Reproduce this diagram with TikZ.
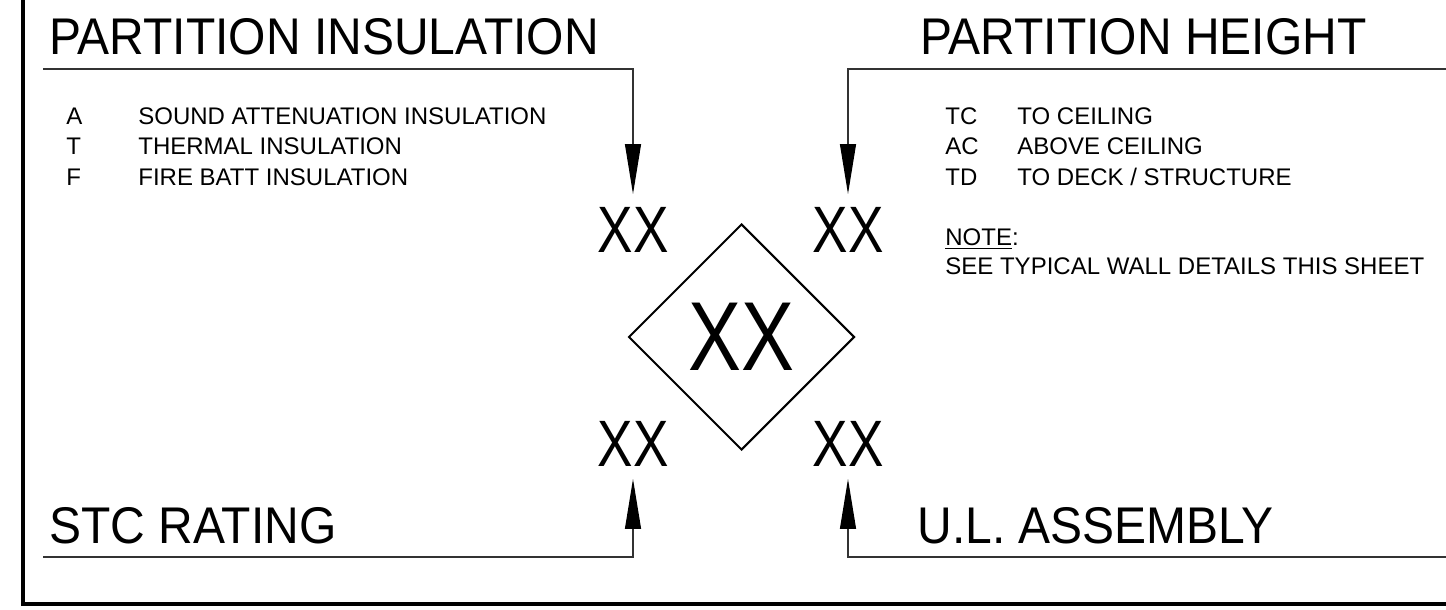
\documentclass[tikz,border=0pt]{standalone}
\usepackage{fontspec}
\setmainfont{Liberation Sans}
\newfontfamily\titlefont{Liberation Sans}[FakeStretch=0.93]
\newfontfamily\xxfont{Liberation Sans}[FakeStretch=0.81]
\usetikzlibrary{shapes.geometric,arrows.meta}
\begin{document}
\begin{tikzpicture}[x=0.5pt,y=-0.5pt,
  title/.style={anchor=base west,inner sep=0pt,font=\titlefont\fontsize{25.8}{28}\selectfont},
  legend/.style={anchor=base west,inner sep=0pt,font=\fontsize{12}{14}\selectfont},
  tag/.style={inner sep=0pt,font=\xxfont\fontsize{32.8}{34}\selectfont},
  bigtag/.style={diamond,draw,line width=1pt,aspect=1,minimum width=113pt,minimum height=113pt,inner sep=0pt,font=\xxfont\fontsize{49}{50}\selectfont},
  lead/.style={draw=black!80,line width=0.6pt,-{Triangle[length=25pt,width=8pt,color=black]}},
  frame/.style={line width=2pt}]
\useasboundingbox (0,0) rectangle (1446,610);
% frame (left and bottom edges)
\draw[frame] (23,-10) -- (23,604) -- (1460,604);
% tags
\node[tag] (xtl) at (633,230) {XX};
\node[tag] (xtr) at (848,230) {XX};
\node[tag] (xbl) at (633,444) {XX};
\node[tag] (xbr) at (848,444) {XX};
\node[bigtag] (dia) at (741.5,337) {XX};
% titles
\node[title] (tins) at (49,55) {PARTITION INSULATION};
\node[title] (thgt) at (920,55) {PARTITION HEIGHT};
\node[title] (tstc) at (49,543) {STC RATING};
\node[title] (tul) at (917,543) {U.L. ASSEMBLY};
% leaders
\coordinate (ptl) at (43,69);
\coordinate (ptr) at (1460,69);
\coordinate (pbl) at (43,557);
\coordinate (pbr) at (1460,557);
\draw[lead,shorten >=6.5pt] (ptl) -| (xtl);
\draw[lead,shorten >=6.5pt] (ptr) -| (xtr);
\draw[lead,shorten >=6pt] (pbl) -| (xbl);
\draw[lead,shorten >=6pt] (pbr) -| (xbr);
% left legend
\node[legend] (la) at (66,125) {A};
\node[legend] (lat) at (138,125) {SOUND ATTENUATION INSULATION};
\node[legend] (lt) at (66,155) {T};
\node[legend] (ltt) at (138,155) {THERMAL INSULATION};
\node[legend] (lf) at (66,185) {F};
\node[legend] (lft) at (138,185) {FIRE BATT INSULATION};
% right legend
\node[legend] (rtc) at (945,125) {TC};
\node[legend] (rtct) at (1017,125) {TO CEILING};
\node[legend] (rac) at (945,155) {AC};
\node[legend] (ract) at (1017,155) {ABOVE CEILING};
\node[legend] (rtd) at (945,185) {TD};
\node[legend] (rtdt) at (1017,185) {TO DECK / STRUCTURE};
\node[legend] (note) at (945,245) {\underline{NOTE}:};
\node[legend] (see) at (945,274) {SEE TYPICAL WALL DETAILS THIS SHEET};
\end{tikzpicture}
\end{document}
